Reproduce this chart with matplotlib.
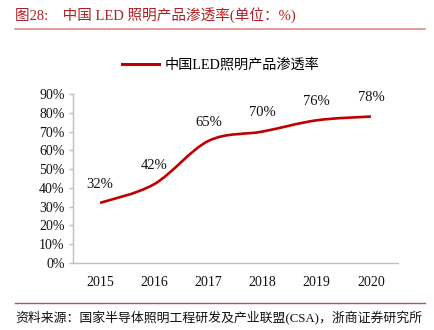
import matplotlib
matplotlib.use('Agg')
import matplotlib.pyplot as plt
from matplotlib.path import Path
from matplotlib.patches import PathPatch
from matplotlib.lines import Line2D
from matplotlib.ticker import PercentFormatter

plt.rcParams['font.family'] = ['Liberation Serif', 'Noto Sans CJK SC', 'DejaVu Sans']

# LED lighting penetration in China, 2015-2020
years = ['2015', '2016', '2017', '2018', '2019', '2020']
penetration = [32, 42, 65, 70, 76, 78]
series_name = '中国LED照明产品渗透率'

RED = '#C00000'
GREY = '#BFBFBF'

fig = plt.figure(figsize=(4.34, 3.30), dpi=100)
ax = fig.add_axes([73 / 434, 1 - 263 / 330, 325 / 434, 169 / 330])

# smoothed line: Catmull-Rom style cubic Bezier through the data points
xs = list(range(len(years)))
ys = penetration
verts = [(xs[0], ys[0])]
codes = [Path.MOVETO]
n = len(xs)
for i in range(n - 1):
    x0, y0 = (xs[i - 1], ys[i - 1]) if i > 0 else (xs[i], ys[i])
    x1, y1 = xs[i], ys[i]
    x2, y2 = xs[i + 1], ys[i + 1]
    x3, y3 = (xs[i + 2], ys[i + 2]) if i + 2 < n else (x2, y2)
    c1 = (x1 + (x2 - x0) / 6, y1 + (y2 - y0) / 6)
    c2 = (x2 - (x3 - x1) / 6, y2 - (y3 - y1) / 6)
    verts += [c1, c2, (x2, y2)]
    codes += [Path.CURVE4] * 3
ax.add_patch(PathPatch(Path(verts, codes), fill=False, edgecolor=RED,
                       linewidth=1.9, capstyle='butt', joinstyle='round'))

for x, v in zip(xs, penetration):
    ax.annotate(f'{v}%', (x, v), xytext=(0, 13.5), textcoords='offset points',
                ha='center', va='center', fontsize=10.5, color='#111111')

ax.set_xlim(-0.5, len(years) - 0.5)
ax.set_ylim(0, 90)
ax.set_yticks(range(0, 91, 10))
ax.yaxis.set_major_formatter(PercentFormatter(decimals=0))
ax.set_xticks(xs)
ax.set_xticklabels(years)

for side in ['top', 'right']:
    ax.spines[side].set_visible(False)
for side in ['left', 'bottom']:
    ax.spines[side].set_color(GREY)
    ax.spines[side].set_linewidth(1.0)
ax.tick_params(axis='y', length=3, width=1, color=GREY, pad=3, labelsize=10, labelcolor='#111111')
ax.tick_params(axis='x', length=0, pad=9, labelsize=10, labelcolor='#111111')

handle = Line2D([], [], color=RED, linewidth=2.2)
fig.legend([handle], [series_name], loc='center', bbox_to_anchor=(221 / 434, 1 - 65 / 330),
           frameon=False, fontsize=10.2, handlelength=2.6, handletextpad=0.4)

# header and footer
fig.text(15 / 434, 1 - 15 / 330, '图28:    中国 LED 照明产品渗透率(单位：%)', color='#B01E23',
         fontsize=10.5, va='center', ha='left')
fig.add_artist(Line2D([15 / 434, 425 / 434], [1 - 28.5 / 330] * 2, color='#E08A8A', linewidth=1.2))
fig.add_artist(Line2D([15 / 434, 425 / 434], [1 - 303 / 330] * 2, color='#C0504D', linewidth=1.0))
fig.text(15 / 434, 1 - 318 / 330, '资料来源：国家半导体照明工程研发及产业联盟(CSA)，浙商证券研究所',
         color='#111111', fontsize=9.3, va='center', ha='left')

fig.savefig('out.png', dpi=100)
